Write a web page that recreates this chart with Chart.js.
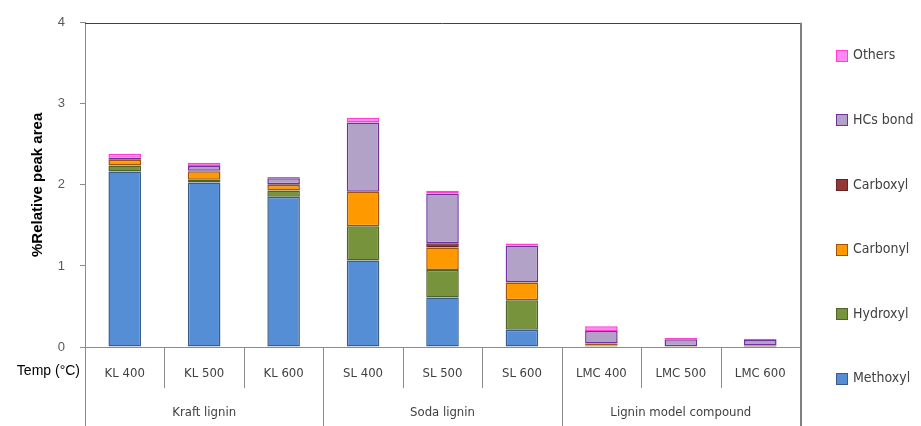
<!DOCTYPE html>
<html>
<head>
<meta charset="utf-8">
<script src="https://cdn.jsdelivr.net/npm/chart.js@4.4.1/dist/chart.umd.min.js"></script>
<style>
  html, body { margin: 0; padding: 0; background: #fff; }
  #wrap { width: 921px; height: 426px; position: relative; }
</style>
</head>
<body>
<div id="wrap"><canvas id="c"></canvas></div>
<script>
// Sample labels and their grouping
const categories = ['KL 400', 'KL 500', 'KL 600', 'SL 400', 'SL 500', 'SL 600', 'LMC 400', 'LMC 500', 'LMC 600'];
const groups = ['Kraft lignin', 'Soda lignin', 'Lignin model compound'];
const groupSize = 3;
const yTicks = [0, 1, 2, 3, 4];

// %Relative peak area of each functional group
const methoxyl = [2.166, 2.03, 1.855, 1.067, 0.61, 0.213, 0.005, 0, 0];
const hydroxyl = [0.074, 0.033, 0.077, 0.422, 0.34, 0.365, 0.012, 0.002, 0.003];
const carbonyl = [0.07, 0.106, 0.066, 0.423, 0.277, 0.218, 0.02, 0.003, 0.002];
const carboxyl = [0.01, 0.005, 0.01, 0.003, 0.053, 0.005, 0.005, 0.005, 0.015];
const hcsBond  = [0.015, 0.06, 0.075, 0.854, 0.615, 0.451, 0.155, 0.085, 0.066];
const others   = [0.05, 0.04, 0.015, 0.06, 0.033, 0.025, 0.06, 0.015, 0.017];

const NARROW = '"DejaVu Sans Condensed", "Liberation Sans", sans-serif';
const SANS = '"Liberation Sans", Arial, sans-serif';

function series(label, data, fill, edge) {
  return { label, data, backgroundColor: fill, borderColor: edge, borderWidth: 1.5,
           borderSkipped: false, barPercentage: 0.41, categoryPercentage: 1.0 };
}

// Category table under the axis, plot frame, axis caption and legend
const decorations = {
  id: 'decorations',
  afterDraw(chart) {
    const { ctx, chartArea: a, scales: { x } } = chart;
    const H = chart.height;
    const n = categories.length;
    const edge = i => i === 0 ? a.left : i === n ? a.right
      : (x.getPixelForValue(i - 1) + x.getPixelForValue(i)) / 2;

    ctx.save();
    ctx.strokeStyle = '#8c8c8c';
    ctx.lineWidth = 1;
    for (let i = 0; i < n; i++) {
      const px = Math.round(edge(i)) + 0.5;
      const isGroupEdge = i % groupSize === 0;
      ctx.beginPath();
      ctx.moveTo(px, a.bottom);
      ctx.lineTo(px, isGroupEdge ? H : a.bottom + 41);
      ctx.stroke();
    }
    // right border of the plot and table
    ctx.strokeStyle = '#808080';
    ctx.lineWidth = 2;
    ctx.beginPath();
    ctx.moveTo(Math.round(a.right) + 1, a.top);
    ctx.lineTo(Math.round(a.right) + 1, H);
    ctx.stroke();
    // top border
    ctx.strokeStyle = '#404040';
    ctx.lineWidth = 1;
    ctx.beginPath();
    ctx.moveTo(a.left, Math.round(a.top) + 0.5);
    ctx.lineTo(a.right, Math.round(a.top) + 0.5);
    ctx.stroke();

    // group captions
    ctx.fillStyle = '#404040';
    ctx.font = '13px ' + NARROW;
    ctx.textAlign = 'center';
    ctx.textBaseline = 'middle';
    groups.forEach((g, k) => {
      const cx = (edge(k * groupSize) + edge((k + 1) * groupSize)) / 2;
      ctx.fillText(g, cx, 413);
    });

    // axis caption for the category row
    ctx.fillStyle = '#000';
    ctx.font = '14px ' + SANS;
    ctx.textAlign = 'right';
    ctx.fillText('Temp (\u00B0C)', 80, 371);

    // legend, last series on top
    const ds = chart.data.datasets.slice().reverse();
    ctx.textAlign = 'left';
    ctx.font = '14px ' + NARROW;
    ds.forEach((d, k) => {
      const cy = 55.7 + k * 64.6;
      ctx.fillStyle = d.backgroundColor;
      ctx.fillRect(836, Math.round(cy - 6), 12, 12);
      ctx.strokeStyle = d.borderColor;
      ctx.lineWidth = 1;
      ctx.strokeRect(836.5, Math.round(cy - 6) + 0.5, 11, 11);
      ctx.fillStyle = '#404040';
      ctx.fillText(d.label, 853, cy);
    });
    ctx.restore();
  }
};

new Chart(document.getElementById('c'), {
  type: 'bar',
  data: {
    labels: categories,
    datasets: [
      series('Methoxyl', methoxyl, '#558ED5', '#385D8A'),
      series('Hydroxyl', hydroxyl, '#77933C', '#4F6228'),
      series('Carbonyl', carbonyl, '#FF9900', '#A0520A'),
      series('Carboxyl', carboxyl, '#953735', '#632523'),
      series('HCs bond', hcsBond, '#B3A2C7', '#7030A0'),
      series('Others', others, '#FF88F4', '#FF40D0')
    ]
  },
  plugins: [decorations],
  options: {
    responsive: true,
    maintainAspectRatio: false,
    animation: false,
    layout: { padding: { top: 22, right: 121, bottom: 0, left: 0 } },
    plugins: { legend: { display: false }, tooltip: { enabled: false } },
    scales: {
      x: {
        stacked: true,
        afterFit: s => { s.height = 79; },
        grid: { display: false, drawTicks: false },
        border: { display: true, color: '#8c8c8c', width: 1 },
        ticks: { color: '#404040', font: { size: 13, family: NARROW }, padding: 19, maxRotation: 0, autoSkip: false }
      },
      y: {
        stacked: true,
        min: 0,
        max: 4,
        afterFit: s => { s.width = 85; },
        afterBuildTicks: s => { s.ticks = yTicks.map(v => ({ value: v })); },
        grid: { display: true, drawOnChartArea: false, tickLength: 5, color: '#8c8c8c' },
        border: { display: true, color: '#8c8c8c', width: 1 },
        ticks: { color: '#595959', font: { size: 13, family: SANS }, padding: 15 },
        title: {
          display: true,
          text: '%Relative peak area',
          color: '#000',
          font: { size: 15, weight: 'bold', family: SANS },
          padding: { top: 29, bottom: 0 }
        }
      }
    }
  }
});
</script>
</body>
</html>
